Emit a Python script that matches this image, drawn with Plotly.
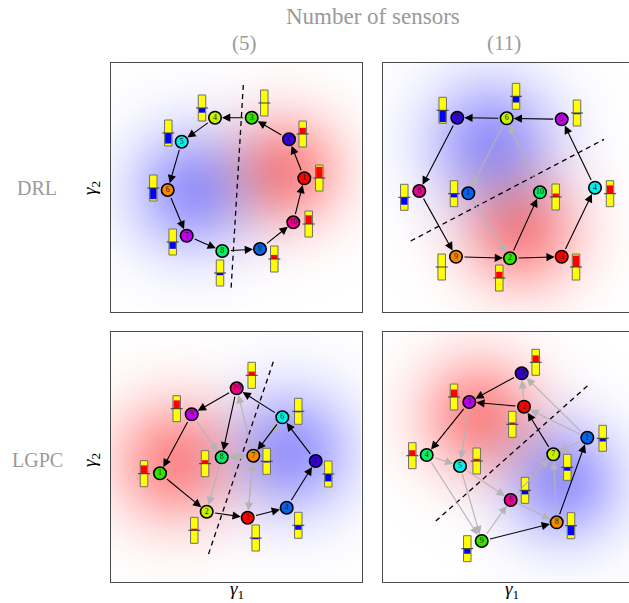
import numpy as np
import plotly.graph_objects as go

FIG_W, FIG_H = 629, 603

# ---- node palette --------------------------------------------------------
RED, ORANGE, YGREEN, GREEN, SPRING = "#ff0000", "#f28a00", "#c8f000", "#30e600", "#00f06a"
CYAN, BLUE, INDIGO, VIOLET, MAGENTA = "#00f0f0", "#0064f0", "#3200e0", "#c000f0", "#f00090"

# ---- panel boxes on the page (left, right, top, bottom) in px -------------
box_drl5 = (111, 362, 63, 312)
box_drl11 = (383, 629, 63, 312)
box_lgpc5 = (111, 362, 332, 582)
box_lgpc11 = (383, 629, 332, 582)

# ---- DRL, 5 sensors --------------------------------------------------------
drl5_x = [193.3, 178.0, 140.7, 104.0, 70.7, 56.7, 75.7, 111.3, 149.0, 182.3]
drl5_y = [115.3, 76.3, 54.7, 54.7, 78.7, 127.0, 172.7, 188.0, 186.0, 159.3]
drl5_col = [RED, INDIGO, GREEN, YGREEN, CYAN, ORANGE, VIOLET, SPRING, BLUE, MAGENTA]
drl5_bar_x = [208.3, 191.7, 153.3, 91.0, 57.3, 42.3, 61.7, 109.0, 163.3, 197.7]
drl5_bar_y = [115.0, 71.0, 40.0, 45.0, 70.0, 125.0, 179.0, 210.0, 196.0, 161.0]
drl5_val = [0.9, 0.5, 0.0, -0.38, -0.85, -0.9, -0.55, -0.18, 0.33, 0.7]
drl5_black = [(1, 2), (2, 3), (3, 4), (4, 5), (5, 6), (6, 7), (7, 8), (8, 9), (9, 10), (10, 1)]
drl5_gray = []
drl5_dash = ([132.3, 120.0], [22.0, 227.0])
# (centre x, centre y, sign, spread) of the red / blue lobes
drl5_lobes = [(175, 108, 1, 40), (82, 128, -1, 44)]

# ---- DRL, 11 sensors -------------------------------------------------------
drl11_x = [85.3, 127.0, 178.7, 212.0, 178.7, 123.7, 74.3, 36.3, 73.0, 157.0]
drl11_y = [130.3, 195.3, 193.7, 124.7, 56.3, 55.3, 54.7, 128.0, 193.7, 129.3]
drl11_col = [BLUE, GREEN, RED, CYAN, VIOLET, YGREEN, INDIGO, MAGENTA, ORANGE, SPRING]
drl11_bar_x = [71.0, 116.3, 193.0, 227.0, 194.0, 133.0, 59.7, 21.3, 58.7, 172.7]
drl11_bar_y = [130.7, 215.0, 204.0, 130.7, 50.0, 33.3, 47.3, 134.3, 204.0, 134.0]
drl11_val = [-0.3, 0.5, 0.92, 0.67, -0.1, -0.5, -0.95, -0.6, 0.0, 0.28]
drl11_black = [(9, 2), (2, 3), (3, 4), (4, 5), (5, 6), (6, 7), (7, 8), (8, 9), (2, 10)]
drl11_gray = [(6, 1), (1, 2), (10, 6)]
drl11_dash = ([27.7, 221.0], [178.0, 76.3])
drl11_lobes = [(108, 80, -1, 46), (138, 168, 1, 42)]

# ---- LGPC, 5 sensors -------------------------------------------------------
lgpc5_x = [49.0, 95.7, 136.7, 175.7, 204.7, 171.3, 142.3, 110.7, 80.7, 125.7]
lgpc5_y = [141.3, 179.7, 185.7, 175.7, 129.0, 85.3, 123.7, 125.3, 82.3, 56.3]
lgpc5_col = [GREEN, YGREEN, RED, BLUE, INDIGO, CYAN, ORANGE, SPRING, VIOLET, MAGENTA]
lgpc5_bar_x = [33.0, 83.3, 144.7, 187.3, 217.3, 187.3, 155.7, 94.0, 65.7, 140.7]
lgpc5_bar_y = [141.7, 198.3, 206.0, 193.3, 142.0, 79.3, 129.3, 131.7, 76.7, 43.3]
lgpc5_val = [0.67, 0.13, -0.1, -0.36, -0.6, -0.08, -0.1, 0.28, 0.67, 0.3]
lgpc5_black = [(1, 2), (2, 3), (3, 4), (4, 5), (5, 6), (6, 10), (10, 9), (9, 1), (10, 8), (6, 7)]
lgpc5_gray = [(9, 8), (8, 2), (7, 8), (8, 7), (7, 10), (7, 3), (3, 7), (7, 6)]
lgpc5_dash = ([162.3, 96.3], [29.7, 225.7])
lgpc5_lobes = [(64, 130, 1, 44), (180, 120, -1, 44)]

# ---- LGPC, 11 sensors ------------------------------------------------------
lgpc11_x = [204.3, 141.0, 86.3, 43.7, 77.0, 127.7, 170.3, 173.7, 98.7, 138.7]
lgpc11_y = [105.7, 74.7, 70.0, 123.0, 134.0, 168.0, 122.3, 190.3, 209.0, 41.3]
lgpc11_col = [BLUE, RED, VIOLET, SPRING, CYAN, MAGENTA, YGREEN, ORANGE, GREEN, INDIGO]
lgpc11_bar_x = [219.7, 129.3, 71.0, 29.3, 93.7, 142.0, 184.3, 188.0, 84.3, 152.7]
lgpc11_bar_y = [106.3, 92.3, 65.0, 123.7, 129.0, 158.3, 135.3, 193.7, 216.7, 30.3]
lgpc11_val = [-0.26, 0.15, 0.6, 0.44, 0.18, -0.33, -0.28, -0.77, -0.41, 0.56]
lgpc11_black = [(10, 3), (2, 3), (3, 4), (7, 2), (9, 8), (8, 1)]
lgpc11_gray = [(2, 10), (1, 10), (1, 2), (1, 7), (4, 5), (4, 9), (5, 9), (3, 5),
               (5, 6), (9, 6), (6, 7), (6, 8), (8, 7)]
lgpc11_dash = ([204.3, 50.3], [54.0, 191.3])
lgpc11_lobes = [(96, 84, 1, 42), (180, 150, -1, 42)]

panels = [
    (box_drl5, drl5_x, drl5_y, drl5_col, drl5_bar_x, drl5_bar_y, drl5_val,
     drl5_black, drl5_gray, drl5_dash, drl5_lobes, True),
    (box_drl11, drl11_x, drl11_y, drl11_col, drl11_bar_x, drl11_bar_y, drl11_val,
     drl11_black, drl11_gray, drl11_dash, drl11_lobes, False),
    (box_lgpc5, lgpc5_x, lgpc5_y, lgpc5_col, lgpc5_bar_x, lgpc5_bar_y, lgpc5_val,
     lgpc5_black, lgpc5_gray, lgpc5_dash, lgpc5_lobes, True),
    (box_lgpc11, lgpc11_x, lgpc11_y, lgpc11_col, lgpc11_bar_x, lgpc11_bar_y, lgpc11_val,
     lgpc11_black, lgpc11_gray, lgpc11_dash, lgpc11_lobes, False),
]

RED_DEPTH = 0.45    # how far the red lobe pulls green/blue down at its peak
BLUE_DEPTH = 0.40   # how far the blue lobe pulls red/green down at its peak
FRAME = "#4a4a4a"
GRAY_EDGE = "#b4b4b4"
SERIF = "Liberation Serif"

BAR_W, BAR_H, TICK_W = 7.5, 26.0, 12.0
NODE_R = 7
STEP = 2.0

fig = go.Figure()
layout_axes = {}
shapes = []
annotations = []

for i, (box, nx, ny, cols, bx, by, vals, black, gray, dash, lobes, full) in enumerate(panels, start=1):
    left, right, top, bottom = box
    W, H = right - left, bottom - top
    xa = "x" if i == 1 else f"x{i}"
    ya = "y" if i == 1 else f"y{i}"
    xkey = "xaxis" if i == 1 else f"xaxis{i}"
    ykey = "yaxis" if i == 1 else f"yaxis{i}"

    layout_axes[xkey] = dict(domain=[left / FIG_W, right / FIG_W], range=[0, W],
                             anchor=ya, showgrid=False, zeroline=False,
                             showticklabels=False, ticks="", showline=True,
                             linecolor=FRAME, linewidth=1.3, mirror=True, fixedrange=True)
    layout_axes[ykey] = dict(domain=[1 - bottom / FIG_H, 1 - top / FIG_H], range=[H, 0],
                             anchor=xa, showgrid=False, zeroline=False,
                             showticklabels=False, ticks="", showline=True,
                             linecolor=FRAME, linewidth=1.3, mirror=full, fixedrange=True)

    # soft red / blue lobes, blended as tinted light on white
    gx = np.arange(STEP / 2, W, STEP)
    gy = np.arange(STEP / 2, H, STEP)
    GX, GY = np.meshgrid(gx, gy)
    red = np.zeros_like(GX)
    blue = np.zeros_like(GX)
    for cx, cy, sign, s in lobes:
        g = np.exp(-((GX - cx) ** 2 + (GY - cy) ** 2) / (2 * s ** 2))
        if sign > 0:
            red += g
        else:
            blue += g
    red = np.clip(red, 0, 1)
    blue = np.clip(blue, 0, 1)
    r_ch = 255 * (1 - BLUE_DEPTH * blue)
    g_ch = 255 * (1 - RED_DEPTH * red) * (1 - BLUE_DEPTH * blue)
    b_ch = 255 * (1 - RED_DEPTH * red)
    rgb = np.stack([r_ch, g_ch, b_ch], axis=-1).round().astype(int)
    fig.add_trace(go.Image(z=rgb, x0=STEP / 2, dx=STEP, y0=STEP / 2, dy=STEP,
                           zsmooth="fast", hoverinfo="skip", xaxis=xa, yaxis=ya))

    # decision boundary
    fig.add_trace(go.Scatter(x=dash[0], y=dash[1], mode="lines",
                             line=dict(color="black", width=1.3, dash="5px,4px"),
                             hoverinfo="skip", showlegend=False, xaxis=xa, yaxis=ya))

    # sensor nodes
    fig.add_trace(go.Scatter(x=nx, y=ny, mode="markers+text",
                             text=[str(k) for k in range(1, len(nx) + 1)],
                             textposition="middle center",
                             textfont=dict(size=8, color="#2a1a00", family=SERIF),
                             marker=dict(size=12.5, color=cols, line=dict(color="black", width=1.6)),
                             hoverinfo="skip", showlegend=False, xaxis=xa, yaxis=ya))

    # value glyphs next to each node
    for xc, yc, v in zip(bx, by, vals):
        shapes.append(dict(type="rect", xref=xa, yref=ya, layer="above",
                           x0=xc - BAR_W / 2, x1=xc + BAR_W / 2,
                           y0=yc - BAR_H / 2, y1=yc + BAR_H / 2,
                           fillcolor="#ffff00", line=dict(color="#6e6e6e", width=1)))
        if v != 0:
            shapes.append(dict(type="rect", xref=xa, yref=ya, layer="above",
                               x0=xc - BAR_W / 2 + 0.6, x1=xc + BAR_W / 2 - 0.6,
                               y0=yc, y1=yc - v * (BAR_H / 2 - 0.6),
                               fillcolor="#ff0000" if v > 0 else "#0000ff",
                               line=dict(width=0)))
        shapes.append(dict(type="line", xref=xa, yref=ya, layer="above",
                           x0=xc - TICK_W / 2, x1=xc + TICK_W / 2, y0=yc, y1=yc,
                           line=dict(color="#3a3a3a", width=1)))

    # directed edges
    for edges, colour in ((gray, GRAY_EDGE), (black, "black")):
        for a, b in edges:
            annotations.append(dict(x=nx[b - 1], y=ny[b - 1], ax=nx[a - 1], ay=ny[a - 1],
                                    xref=xa, yref=ya, axref=xa, ayref=ya, text="",
                                    showarrow=True, arrowhead=2, arrowsize=1.5,
                                    arrowwidth=1.1, arrowcolor=colour,
                                    standoff=NODE_R, startstandoff=NODE_R))

# headings and axis symbols
def page_text(txt, px, py, size, color, angle=0):
    annotations.append(dict(text=txt, x=px / FIG_W, y=1 - py / FIG_H, xref="paper", yref="paper",
                            showarrow=False, xanchor="center", yanchor="middle", textangle=angle,
                            font=dict(family=SERIF, size=size, color=color)))

page_text("Number of sensors", 373, 17, 23, "#9a9a9a")
page_text("(5)", 244, 43, 21, "#9a9a9a")
page_text("(11)", 504, 43, 21, "#9a9a9a")
page_text("DRL", 37, 188, 20, "#9a9a9a")
page_text("LGPC", 37, 460, 20, "#9a9a9a")
page_text("<i>γ</i><sub>2</sub>", 91, 188, 19, "black", -90)
page_text("<i>γ</i><sub>2</sub>", 91, 460, 19, "black", -90)
page_text("<i>γ</i><sub>1</sub>", 237, 590, 19, "black")
page_text("<i>γ</i><sub>1</sub>", 512, 590, 19, "black")

fig.update_layout(width=FIG_W, height=FIG_H, margin=dict(l=0, r=0, t=0, b=0),
                  paper_bgcolor="white", plot_bgcolor="white", showlegend=False,
                  shapes=shapes, annotations=annotations, **layout_axes)

fig.write_html("out.html")
